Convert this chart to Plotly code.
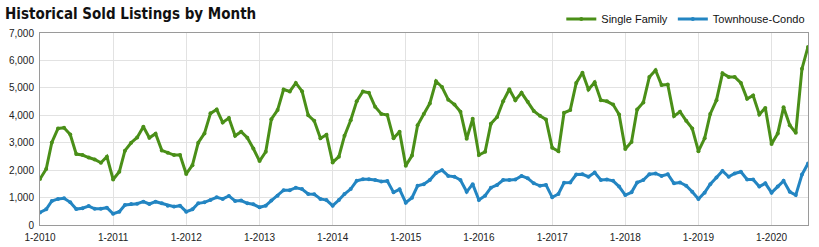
import pandas as pd
import plotly.graph_objects as go

months = pd.date_range("2010-01-01", "2020-07-01", freq="MS")

single_family = [
    1675, 2040, 3010, 3520, 3545, 3300, 2585, 2550, 2460, 2390, 2270, 2490,
    1660, 1940, 2710, 3000, 3190, 3580, 3180, 3330, 2720, 2630, 2550, 2550,
    1860, 2180, 3000, 3340, 4070, 4210, 3740, 3900, 3250, 3400, 3180, 2790,
    2330, 2670, 3860, 4190, 4940, 4870, 5180, 4880, 4000, 3800, 3160, 3290,
    2280, 2490, 3250, 3820, 4510, 4870, 4820, 4310, 4050, 4010, 3160, 3400,
    2160, 2530, 3640, 4050, 4430, 5240, 5030, 4570, 4390, 4130, 3140, 3870,
    2550, 2670, 3690, 3940, 4510, 4950, 4550, 4820, 4490, 4160, 3980, 3850,
    2815, 2690, 4090, 4190, 5180, 5550, 4940, 5200, 4550, 4510, 4390, 4030,
    2770, 3030, 4210, 4470, 5400, 5640, 5100, 5120, 3970, 4130, 3800, 3520,
    2690, 3160, 4050, 4550, 5530, 5400, 5400, 5180, 4600, 4720, 4030, 4270,
    2950, 3340, 4290, 3640, 3360, 5700, 6490,
]

townhouse_condo = [
    460, 570, 875, 950, 975, 825, 580, 610, 690, 590, 590, 630,
    410, 485, 730, 765, 775, 850, 765, 850, 790, 705, 670, 705,
    485, 570, 790, 825, 910, 1010, 950, 1060, 875, 890, 790, 755,
    645, 705, 890, 1070, 1270, 1270, 1360, 1310, 1130, 1120, 950, 910,
    705, 910, 1130, 1310, 1610, 1670, 1670, 1640, 1590, 1600, 1190, 1300,
    815, 995, 1430, 1490, 1640, 1900, 2000, 1790, 1760, 1640, 1210, 1490,
    910, 1070, 1360, 1460, 1640, 1640, 1660, 1790, 1700, 1520, 1430, 1460,
    1010, 1130, 1540, 1550, 1840, 1850, 1760, 1910, 1640, 1660, 1610, 1400,
    1090, 1190, 1550, 1640, 1850, 1880, 1790, 1850, 1520, 1550, 1430, 1210,
    950, 1180, 1490, 1730, 1970, 1760, 1880, 1940, 1660, 1660, 1400, 1520,
    1180, 1400, 1610, 1210, 1090, 1840, 2240,
]

year_ticks = pd.date_range("2010-01-01", "2020-01-01", freq="YS")
year_labels = ["1-%d" % d.year for d in year_ticks]
y_ticks = [0, 1000, 2000, 3000, 4000, 5000, 6000, 7000]

green = "#4A8F18"
blue = "#2385C2"

fig = go.Figure()
fig.add_trace(go.Scatter(
    x=months, y=single_family, name="Single Family", mode="lines+markers",
    line=dict(color=green, width=3), marker=dict(color=green, size=4),
))
fig.add_trace(go.Scatter(
    x=months, y=townhouse_condo, name="Townhouse-Condo", mode="lines+markers",
    line=dict(color=blue, width=3), marker=dict(color=blue, size=4),
))

fig.update_layout(
    width=819, height=247,
    margin=dict(l=40, r=11, t=33, b=22, autoexpand=False),
    paper_bgcolor="white", plot_bgcolor="white",
    font=dict(family="Liberation Sans, Arial, sans-serif", size=10, color="#222"),
    title=dict(
        text="<b>Historical Sold Listings by Month</b>",
        x=5 / 819, xanchor="left", xref="container",
        y=1 - 14 / 247, yanchor="middle", yref="container",
        font=dict(family="DejaVu Sans Condensed, Liberation Sans Narrow, Arial Narrow, sans-serif",
                  size=15, color="#111"),
    ),
    legend=dict(
        orientation="h", x=1.003, xanchor="right",
        y=1 - 19 / 247, yanchor="middle", yref="container",
        font=dict(size=11, color="#111"), bgcolor="rgba(0,0,0,0)",
        itemwidth=30, tracegroupgap=0,
    ),
    showlegend=True,
    hovermode=False,
)

fig.update_xaxes(
    range=[months[0], months[-1]],
    tickvals=list(year_ticks), ticktext=year_labels,
    showgrid=True, gridcolor="#E2E2E2", gridwidth=1,
    showline=True, linecolor="#9A9A9A", linewidth=1, mirror=True,
    ticks="", tickfont=dict(size=10, color="#222"), zeroline=False,
    ticklabelstandoff=3, automargin=False,
)
fig.update_yaxes(
    range=[0, 7000], tickvals=y_ticks, tickformat=",",
    showgrid=True, gridcolor="#E2E2E2", gridwidth=1,
    showline=True, linecolor="#9A9A9A", linewidth=1, mirror=True,
    ticks="", tickfont=dict(size=10, color="#222"), zeroline=False,
    ticklabelstandoff=3, automargin=False,
)

fig.write_html("out.html")
